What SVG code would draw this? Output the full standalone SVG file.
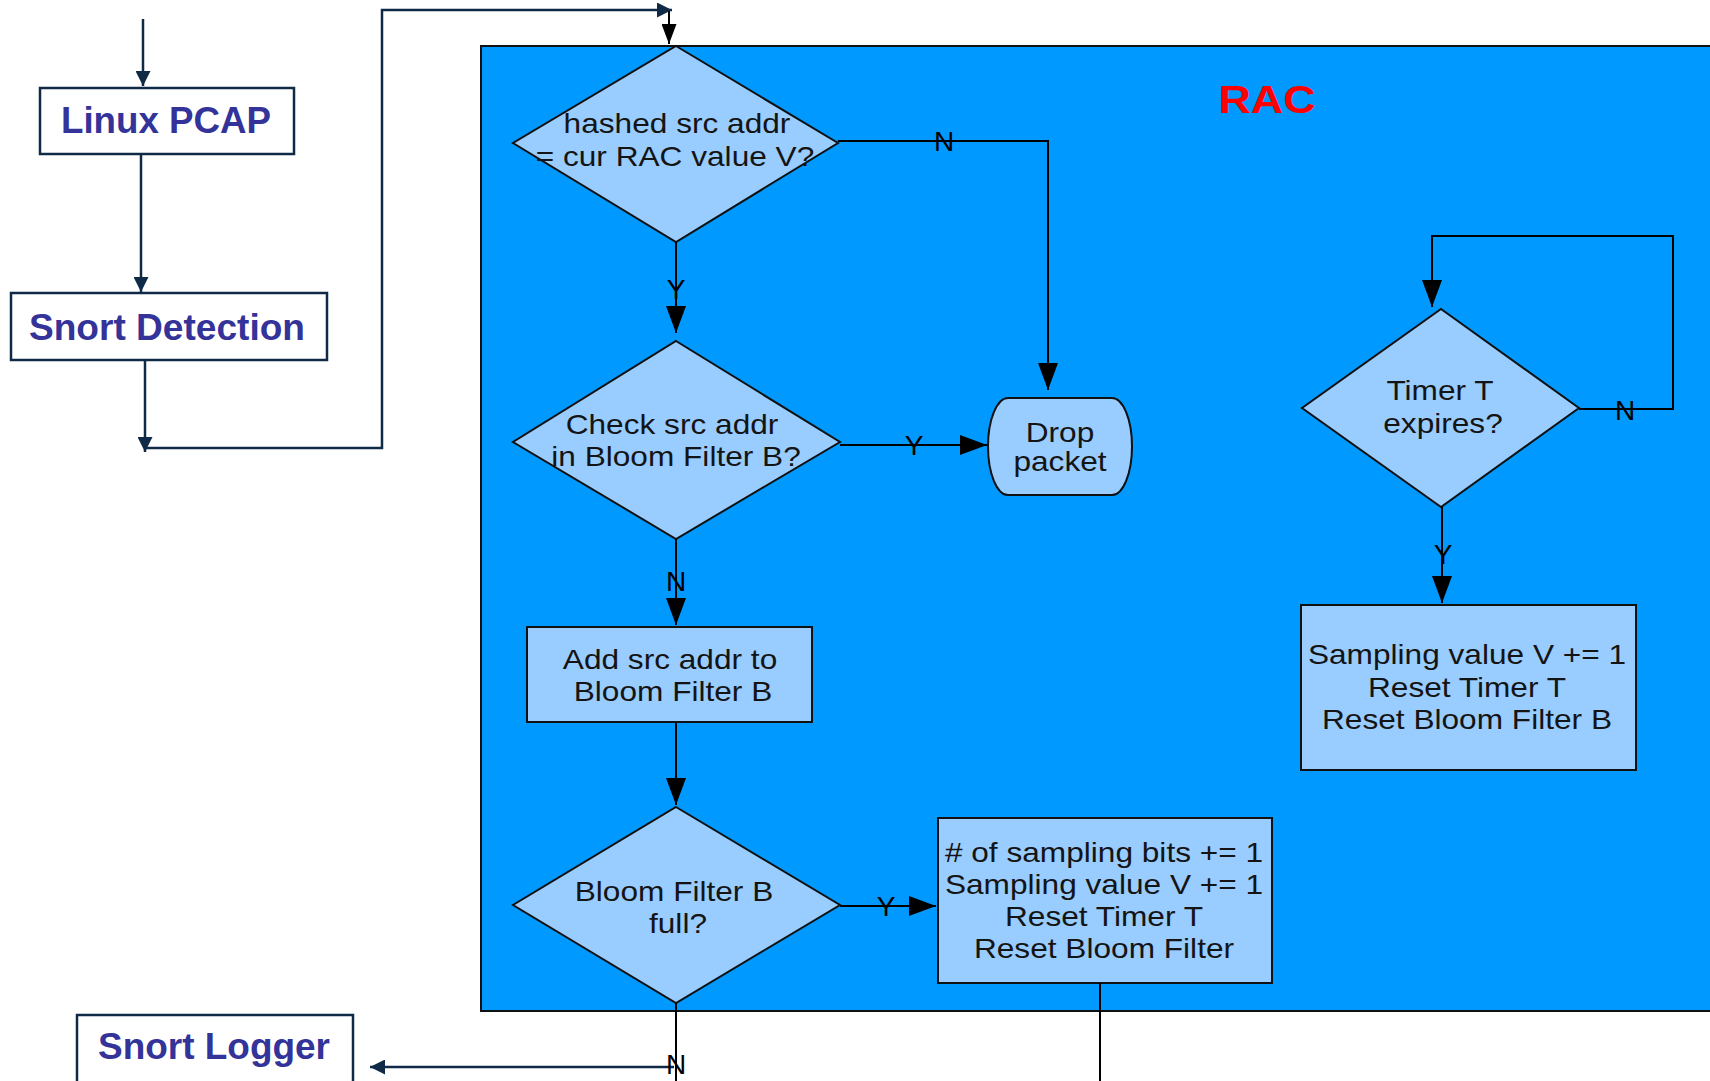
<svg xmlns="http://www.w3.org/2000/svg" width="1710" height="1081" viewBox="0 0 1710 1081">
<style>
.outer{fill:#ffffff;stroke:#0e2a47;stroke-width:2.5}
.olbl{font-family:"Liberation Sans",Arial,sans-serif;font-weight:bold;font-size:36px;fill:#333399;text-anchor:middle}
.node{fill:#99ccff;stroke:#111111;stroke-width:2}
.t{font-family:"Liberation Sans",Arial,sans-serif;font-size:28px;fill:#141414;text-anchor:middle}
.lbl{font-family:"Liberation Sans",Arial,sans-serif;font-size:28px;fill:#000000;text-anchor:middle}
.ic{fill:none;stroke:#000000;stroke-width:2}
.oc{fill:none;stroke:#0e2a47;stroke-width:2.5}
.rac{font-family:"Liberation Sans",Arial,sans-serif;font-weight:bold;font-size:39px;fill:#ff0000;text-anchor:middle}
</style>
<defs>
<marker id="ah" viewBox="0 0 27 20" markerWidth="27" markerHeight="20" refX="27" refY="10" orient="auto" markerUnits="userSpaceOnUse"><path d="M0,0 L27,10 L0,20 Z" fill="#000000"/></marker>
<marker id="ahs" viewBox="0 0 20 15" markerWidth="20" markerHeight="15" refX="20" refY="7.5" orient="auto" markerUnits="userSpaceOnUse"><path d="M0,0 L20,7.5 L0,15 Z" fill="#000000"/></marker>
<marker id="ao" viewBox="0 0 15 15" markerWidth="15" markerHeight="15" refX="15" refY="7.5" orient="auto" markerUnits="userSpaceOnUse"><path d="M0,0 L15,7.5 L0,15 Z" fill="#0e2a47"/></marker>
</defs>

<g id="rac">
<rect x="481" y="46" width="1245" height="965" fill="#0099ff" stroke="#111111" stroke-width="2"/>
<text class="rac" transform="translate(1267,113) scale(1.15,1)">RAC</text>
</g>

<g id="linux-pcap">
<rect class="outer" x="40" y="88" width="254" height="66"/>
<text class="olbl" x="166" y="133" textLength="210" lengthAdjust="spacingAndGlyphs">Linux PCAP</text>
</g>
<g id="snort-detection">
<rect class="outer" x="11" y="293" width="316" height="67"/>
<text class="olbl" x="167" y="340" textLength="276" lengthAdjust="spacingAndGlyphs">Snort Detection</text>
</g>
<g id="snort-logger">
<rect class="outer" x="77" y="1015" width="276" height="80"/>
<text class="olbl" x="214" y="1059" textLength="232" lengthAdjust="spacingAndGlyphs">Snort Logger</text>
</g>

<g id="d1">
<polygon class="node" points="676,46 838,143 676,242 513,143"/>
<text class="t" transform="translate(677,133) scale(1.13,1)">hashed src addr</text>
<text class="t" transform="translate(675,166) scale(1.13,1)">= cur RAC value V?</text>
</g>
<g id="d2">
<polygon class="node" points="676,341 840,442 676,539 513,442"/>
<text class="t" transform="translate(672,434) scale(1.13,1)">Check src addr</text>
<text class="t" transform="translate(676,466) scale(1.13,1)">in Bloom Filter B?</text>
</g>
<g id="drop">
<path class="node" d="M1008,398 H1112 A20,48.5 0 0 1 1112,495 H1008 A20,48.5 0 0 1 1008,398 Z"/>
<text class="t" transform="translate(1060,442) scale(1.13,1)">Drop</text>
<text class="t" transform="translate(1060,471) scale(1.13,1)">packet</text>
</g>
<g id="add">
<rect class="node" x="527" y="627" width="285" height="95"/>
<text class="t" transform="translate(670,669) scale(1.13,1)">Add src addr to</text>
<text class="t" transform="translate(673,701) scale(1.13,1)">Bloom Filter B</text>
</g>
<g id="d3">
<polygon class="node" points="676,807 840,905 676,1003 513,905"/>
<text class="t" transform="translate(674,901) scale(1.13,1)">Bloom Filter B</text>
<text class="t" transform="translate(678,933) scale(1.13,1)">full?</text>
</g>
<g id="box4">
<rect class="node" x="938" y="818" width="334" height="165"/>
<text class="t" transform="translate(1104,862) scale(1.13,1)"># of sampling bits += 1</text>
<text class="t" transform="translate(1104,894) scale(1.13,1)">Sampling value V += 1</text>
<text class="t" transform="translate(1104,926) scale(1.13,1)">Reset Timer T</text>
<text class="t" transform="translate(1104,958) scale(1.13,1)">Reset Bloom Filter</text>
</g>
<g id="d4">
<polygon class="node" points="1441,309 1579,408 1441,507 1302,408"/>
<text class="t" transform="translate(1440,400) scale(1.13,1)">Timer T</text>
<text class="t" transform="translate(1443,433) scale(1.13,1)">expires?</text>
</g>
<g id="box5">
<rect class="node" x="1301" y="605" width="335" height="165"/>
<text class="t" transform="translate(1467,664) scale(1.13,1)">Sampling value V += 1</text>
<text class="t" transform="translate(1467,697) scale(1.13,1)">Reset Timer T</text>
<text class="t" transform="translate(1467,729) scale(1.13,1)">Reset Bloom Filter B</text>
</g>

<g id="connectors">
<path class="oc" d="M143,19 V86" marker-end="url(#ao)"/>
<path class="oc" d="M141,155 V292" marker-end="url(#ao)"/>
<path class="oc" d="M145,360 V452" marker-end="url(#ao)"/>
<path class="oc" d="M145,448 H382 V10 H672" marker-end="url(#ao)"/>
<path class="ic" d="M669,11 V44" marker-end="url(#ahs)"/>
<path class="ic" d="M838,141 H1048 V390" marker-end="url(#ah)"/>
<path class="ic" d="M676,242 V333" marker-end="url(#ah)"/>
<path class="ic" d="M840,445 H987" marker-end="url(#ah)"/>
<path class="ic" d="M676,539 V625" marker-end="url(#ah)"/>
<path class="ic" d="M676,722 V805" marker-end="url(#ah)"/>
<path class="ic" d="M840,906 H936" marker-end="url(#ah)"/>
<path class="ic" d="M676,1003 V1081"/>
<path class="ic" d="M1100,983 V1081"/>
<path class="ic" d="M1579,409 H1673 V236 H1432 V307" marker-end="url(#ah)"/>
<path class="ic" d="M1442,507 V603" marker-end="url(#ah)"/>
<path class="oc" d="M674,1067 H370" marker-end="url(#ao)"/>
<text class="lbl" x="944" y="151">N</text>
<text class="lbl" x="676" y="299">Y</text>
<text class="lbl" x="914" y="455">Y</text>
<text class="lbl" x="676" y="591">N</text>
<text class="lbl" x="886" y="916">Y</text>
<text class="lbl" x="676" y="1074">N</text>
<text class="lbl" x="1625" y="420">N</text>
<text class="lbl" x="1443" y="564">Y</text>
</g>
</svg>
